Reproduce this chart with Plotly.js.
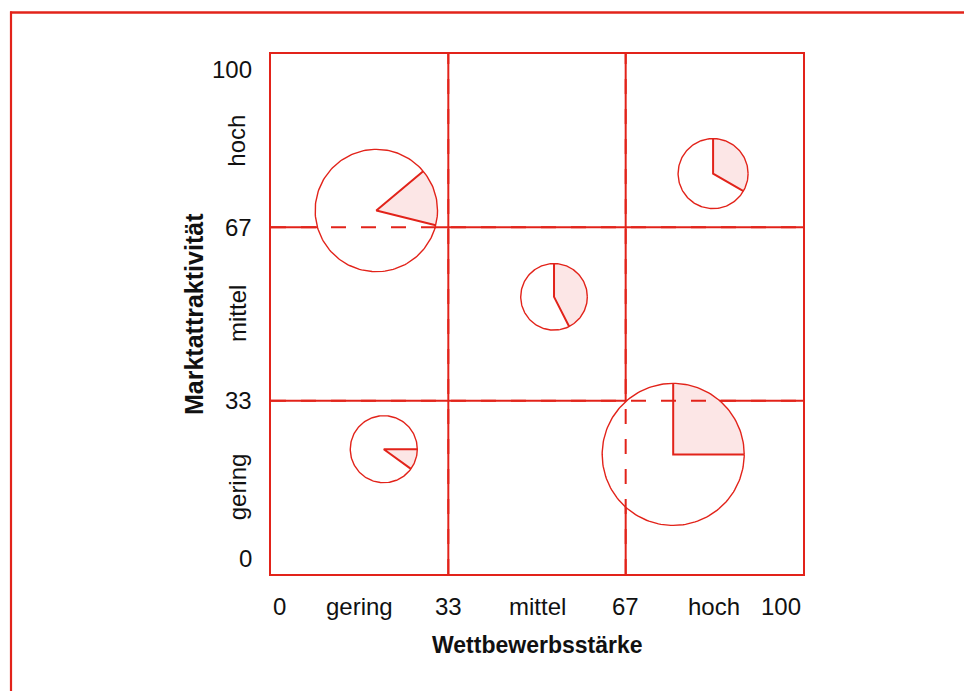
<!DOCTYPE html>
<html>
<head>
<meta charset="utf-8">
<script src="https://cdn.plot.ly/plotly-3.0.1.min.js"></script>
<style>html,body{margin:0;padding:0;background:#fff;}#chart{width:964px;height:691px;}</style>
</head>
<body>
<div id="chart"></div>
<script>
// ---- data ----
const xTickVals = [0, 16.67, 33.33, 50, 66.67, 83.33, 100];
const xTickText = ['0', 'gering', '33', 'mittel', '67', 'hoch', '100'];
const yNumVals = [0, 33.33, 66.67, 100];
const yNumText = ['0', '33', '67', '100'];
const yWordVals = [16.67, 50, 83.33];
const yWordText = ['gering', 'mittel', 'hoch'];
const gridVals = [33.33, 66.67];
const xTitle = 'Wettbewerbsstärke';
const yTitle = 'Marktattraktivität';

const bubbleX = [19.8, 53.2, 83.1, 21.2, 75.6];
const bubbleY = [69.9, 53.3, 77.0, 24.0, 23.0];
const bubbleR = [11.5, 6.26, 6.58, 6.3, 13.35];   // radius in x-axis units
const shares = [0.15, 0.425, 0.333, 0.10, 0.25];
const startDeg = [40, 90, 90, 0, 90];

// ---- style ----
const RED = '#e2231a';
const PINK = '#fce6e6';
const FONT = '"Liberation Sans", Arial, sans-serif';
const W = 964, H = 691;
const M = {l: 271, r: 161, t: 54, b: 117};
const plotW = W - M.l - M.r, plotH = H - M.t - M.b;
const yScale = plotW / plotH;

const traces = [];
const N = 180;
for (let i = 0; i < bubbleX.length; i++) {
  const cx = bubbleX[i], cy = bubbleY[i], r = bubbleR[i], ry = r * yScale;
  const cxs = [], cys = [];
  for (let k = 0; k <= N; k++) {
    const a = 2 * Math.PI * k / N;
    cxs.push(cx + r * Math.cos(a)); cys.push(cy + ry * Math.sin(a));
  }
  // white disc
  traces.push({x: cxs, y: cys, type: 'scatter', mode: 'lines', fill: 'toself',
    fillcolor: '#ffffff', line: {width: 0, color: 'rgba(0,0,0,0)'}, hoverinfo: 'skip', showlegend: false});
  // slice
  const a0 = startDeg[i] * Math.PI / 180;
  const span = shares[i] * 2 * Math.PI;
  const sx = [cx], sy = [cy];
  const M2 = 60;
  for (let k = 0; k <= M2; k++) {
    const a = a0 - span * k / M2;
    sx.push(cx + r * Math.cos(a)); sy.push(cy + ry * Math.sin(a));
  }
  sx.push(cx); sy.push(cy);
  traces.push({x: sx, y: sy, type: 'scatter', mode: 'lines', fill: 'toself',
    fillcolor: PINK, line: {width: 0, color: 'rgba(0,0,0,0)'}, hoverinfo: 'skip', showlegend: false});
  // outline
  traces.push({x: cxs, y: cys, type: 'scatter', mode: 'lines',
    line: {width: 1.4, color: RED}, hoverinfo: 'skip', showlegend: false});
  // radial lines
  const a1 = a0 - span;
  traces.push({x: [cx + r * Math.cos(a0), cx, cx + r * Math.cos(a1)],
    y: [cy + ry * Math.sin(a0), cy, cy + ry * Math.sin(a1)], type: 'scatter', mode: 'lines',
    line: {width: 2, color: RED}, hoverinfo: 'skip', showlegend: false});
}

const shapes = [];
// solid grid lines (below traces)
gridVals.forEach(v => {
  shapes.push({type: 'line', layer: 'below', xref: 'x', yref: 'paper', x0: v, x1: v, y0: 0, y1: 1, line: {color: RED, width: 2}});
  shapes.push({type: 'line', layer: 'below', xref: 'paper', yref: 'y', x0: 0, x1: 1, y0: v, y1: v, line: {color: RED, width: 2}});
});
// dashed continuation over the discs
gridVals.forEach(v => {
  shapes.push({type: 'line', layer: 'above', xref: 'x', yref: 'paper', x0: v, x1: v, y0: 0, y1: 1, line: {color: RED, width: 2, dash: '15px,15px'}});
  shapes.push({type: 'line', layer: 'above', xref: 'paper', yref: 'y', x0: 0, x1: 1, y0: v, y1: v, line: {color: RED, width: 2, dash: '15px,15px'}});
});
// outer frame (top and left)
const pxToPaperX = px => (px - M.l) / plotW;
const pyToPaperY = py => (H - M.b - py) / plotH;
shapes.push({type: 'line', xref: 'paper', yref: 'paper', x0: pxToPaperX(10), x1: pxToPaperX(W + 5), y0: pyToPaperY(12.5), y1: pyToPaperY(12.5), line: {color: RED, width: 2.6}});
shapes.push({type: 'line', xref: 'paper', yref: 'paper', x0: pxToPaperX(11), x1: pxToPaperX(11), y0: pyToPaperY(11.5), y1: pyToPaperY(H + 5), line: {color: RED, width: 2.2}});

const annotations = [];
const tickFont = {family: FONT, size: 24, color: '#111'};
xTickVals.forEach((v, i) => {
  annotations.push({x: v, xref: 'x', y: 0, yref: 'paper', text: xTickText[i], showarrow: false,
    xanchor: i === 0 ? 'left' : (i === xTickVals.length - 1 ? 'right' : 'center'),
    yanchor: 'middle', yshift: -32, font: tickFont});
});
yNumVals.forEach((v, i) => {
  annotations.push({x: 0, xref: 'paper', y: v, yref: 'y', text: yNumText[i], showarrow: false,
    xanchor: 'right', xshift: -17,
    yanchor: i === 0 ? 'bottom' : (i === yNumVals.length - 1 ? 'top' : 'middle'), font: tickFont});
});
yWordVals.forEach((v, i) => {
  annotations.push({x: 0, xref: 'paper', y: v, yref: 'y', text: yWordText[i], showarrow: false,
    xanchor: 'center', yanchor: 'middle', xshift: -34, textangle: -90, font: tickFont});
});
const titleFont = {family: FONT, size: 23, color: '#111', weight: 'bold'};
annotations.push({x: 0.5, xref: 'paper', y: 0, yref: 'paper', text: '<b>' + xTitle + '</b>', showarrow: false,
  xanchor: 'center', yanchor: 'middle', yshift: -71, font: titleFont});
annotations.push({x: 0, xref: 'paper', y: 0.5, yref: 'paper', text: '<b>' + yTitle + '</b>', showarrow: false,
  xanchor: 'center', yanchor: 'middle', xshift: -77, textangle: -90,
  font: Object.assign({}, titleFont, {size: 25})});

const axisCommon = {range: [0, 100], showgrid: false, zeroline: false, showticklabels: false, ticks: '',
  showline: true, mirror: true, linecolor: RED, linewidth: 2, fixedrange: true};

const layout = {
  width: W, height: H, margin: M,
  paper_bgcolor: '#ffffff', plot_bgcolor: '#ffffff',
  xaxis: Object.assign({}, axisCommon),
  yaxis: Object.assign({}, axisCommon),
  shapes: shapes, annotations: annotations, showlegend: false
};

Plotly.newPlot('chart', traces, layout, {displayModeBar: false, staticPlot: true});
</script>
</body>
</html>
